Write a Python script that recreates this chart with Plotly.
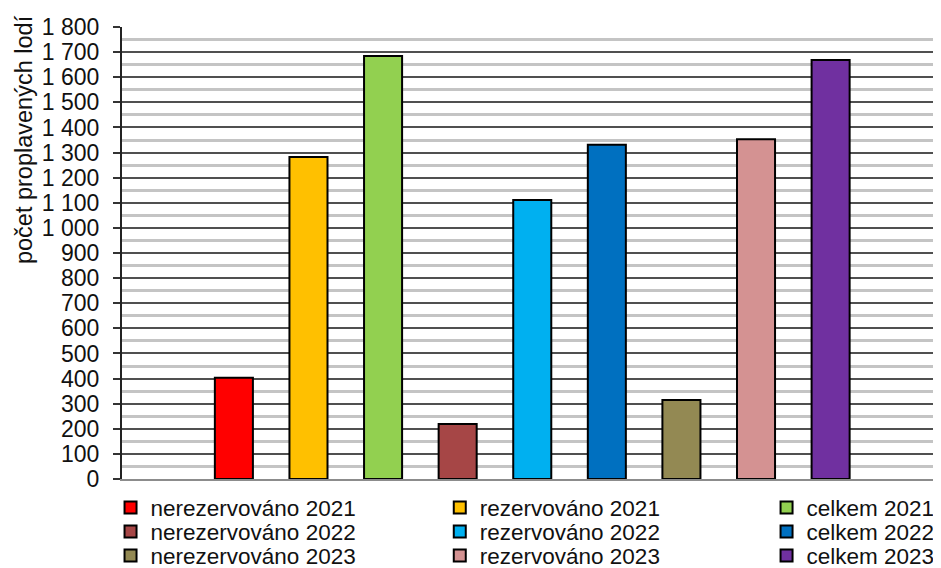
import plotly.graph_objects as go

labels = ["nerezervováno 2021", "rezervováno 2021", "celkem 2021",
          "nerezervováno 2022", "rezervováno 2022", "celkem 2022",
          "nerezervováno 2023", "rezervováno 2023", "celkem 2023"]
values = [403, 1282, 1685, 219, 1111, 1331, 315, 1353, 1669]
colors = ["#FF0000", "#FFC000", "#92D050", "#A64646", "#00B0F0",
          "#0070C0", "#938953", "#D49292", "#7030A0"]
y_title = "počet proplavených lodí"
# empty slots at both ends of the category axis
categories = ["\u200b"] + labels + ["\u200b\u200b"]

font_family = "Liberation Sans, Arial, sans-serif"

# legend grid: 3 columns x 3 rows (row-major, same order as the bars)
col_x = [-0.014, 0.388, 0.787]
row_y = [-0.064, -0.117, -0.170]

fig = go.Figure()
legends = {}
for i, (lab, val, col) in enumerate(zip(labels, values, colors)):
    leg = "legend" if i == 0 else f"legend{i + 1}"
    fig.add_trace(go.Bar(
        x=[lab], y=[val], name=lab, legend=leg,
        marker=dict(color=col, line=dict(color="#000000", width=2)),
        width=0.51,
    ))
    legends[leg] = dict(orientation="h",
                        font=dict(size=22.5, color="#111111", family=font_family),
                        bgcolor="rgba(0,0,0,0)",
                        x=col_x[i % 3], xanchor="left",
                        y=row_y[i // 3], yanchor="middle",
                        itemclick=False, itemdoubleclick=False)

fig.update_layout(
    width=933, height=560,
    margin=dict(l=114, r=0, t=19, b=89, autoexpand=False),
    paper_bgcolor="white", plot_bgcolor="white",
    barmode="overlay",
    separators=", ",
    font=dict(family=font_family, color="#111111"),
    showlegend=True,
    xaxis=dict(type="category", categoryorder="array", categoryarray=categories,
               range=[-0.5, 10.48], showticklabels=False, ticks="",
               showgrid=False, showline=True, linecolor="#8c8c8c", linewidth=2,
               zeroline=False),
    yaxis=dict(range=[0, 1800], dtick=100, tick0=0, separatethousands=True,
               ticks="outside", ticklen=7, tickcolor="#333333", tickwidth=1.5,
               ticklabelstandoff=9,
               showline=True, linecolor="#222222", linewidth=2,
               showgrid=True, gridcolor="#505050", gridwidth=1.5,
               minor=dict(dtick=50, showgrid=True, gridcolor="#c4c4c4", gridwidth=2.5),
               zeroline=False,
               tickfont=dict(size=23, color="#111111")),
    annotations=[dict(text=y_title, textangle=-90, xref="paper", yref="paper",
                      x=-0.1197, y=0.752, xanchor="center", yanchor="middle",
                      showarrow=False,
                      font=dict(size=23.5, color="#111111", family=font_family))],
)
fig.update_layout(**legends)

fig.write_html("out.html")
